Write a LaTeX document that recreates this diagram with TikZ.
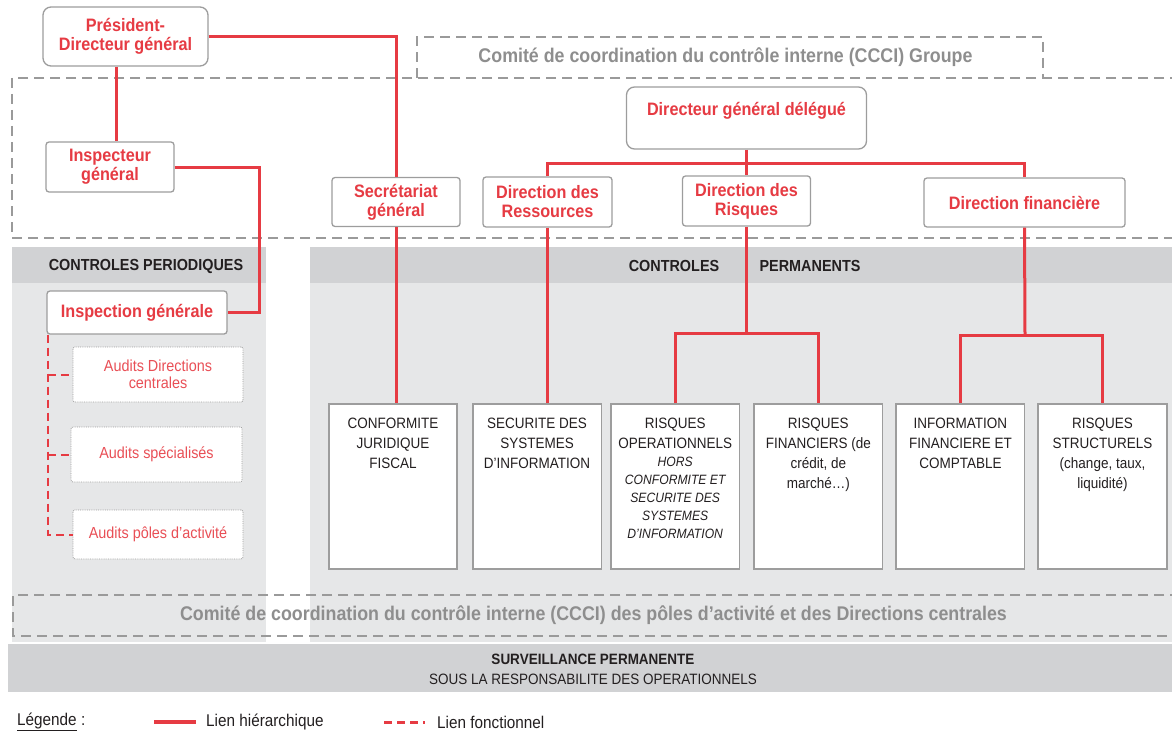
\documentclass[tikz,border=0pt]{standalone}
\usepackage{fontspec}
\setmainfont{Liberation Sans}[FakeStretch=0.9]
\usetikzlibrary{positioning}
\definecolor{ccired}{HTML}{E63B43}
\definecolor{boxgray}{HTML}{9D9D9D}
\definecolor{dashgray}{HTML}{9A9A9A}
\definecolor{headgray}{HTML}{D1D2D4}
\definecolor{panelgray}{HTML}{E6E7E8}
\definecolor{textgray}{HTML}{8E8E8E}
\definecolor{textdark}{HTML}{231F20}
\newcommand{\ctrltext}[1]{\parbox[c][165pt][t]{128.5pt}{\centering\vspace*{14pt}#1}}

\begin{document}
\begin{tikzpicture}[x=1pt, y=-1pt, auto, node distance=12pt]
      \tikzstyle{hier} = [draw=ccired, line width=3pt]
      \tikzstyle{fonct} = [draw=ccired, line width=2pt, dash pattern=on 8pt off 5pt]
      \tikzstyle{comite} = [draw=dashgray, line width=2.8pt, dash pattern=on 10pt off 6pt]
      \tikzstyle{chef node} = [rectangle, rounded corners=8pt, draw=boxgray, line width=1.3pt, fill=white,
         align=center, text=ccired, font=\fontsize{18}{19}\selectfont\bfseries]
      \tikzstyle{dir node} = [chef node, rounded corners=3pt]
      \tikzstyle{audit node} = [rectangle, rounded corners=2pt, draw=boxgray, densely dotted, line width=0.8pt,
         fill=white, align=center, text=ccired!90!white, font=\fontsize{16}{17}\selectfont]
      \tikzstyle{ctrl node} = [rectangle, draw=boxgray, line width=1.6pt, fill=white, inner sep=0pt,
         text=textdark, font=\fontsize{15}{20}\selectfont]
      \tikzstyle{head} = [text=textdark, font=\fontsize{16}{16}\selectfont\bfseries]
      \tikzstyle{comite text} = [text=textgray, font=\fontsize{19.8}{20}\selectfont\bfseries]
      \tikzstyle{legend} = [anchor=west, inner sep=0pt, text=textdark, font=\fontsize{17}{17}\selectfont]

      \useasboundingbox (0,0) rectangle (1172,733);

      %panels
      \fill[headgray] (12,247) rectangle (266,283);
      \fill[panelgray] (12,283) rectangle (266,642);
      \fill[headgray] (310,247) rectangle (1172,283);
      \fill[panelgray] (310,283) rectangle (1172,642);
      \fill[headgray] (8,644) rectangle (1172,692);

      %comites
      \draw[comite] (1180,78) -- (12,78) -- (12,238) -- (1180,238);
      \draw[comite] (417,78) -- (417,37) -- (1043,37) -- (1043,78);
      \draw[comite] (1180,595) -- (13,595) -- (13,636) -- (1180,636);

      %nodes
      \node[chef node, minimum width=165pt, minimum height=59pt] (pdg) at (125.5,36.5) {Président-\\Directeur général};
      \node[dir node, minimum width=128pt, minimum height=50pt] (insp) at (110,167) {Inspecteur\\général};
      \node[dir node, minimum width=128pt, minimum height=49pt] (secr) at (396,202) {Secrétariat\\général};
      \node[chef node, minimum width=240pt, minimum height=62pt] (dgd) at (746.5,118) {Directeur général délégué\\\mbox{}};
      \node[dir node, minimum width=129pt, minimum height=50pt] (dres) at (547.5,202) {Direction des\\Ressources};
      \node[dir node, minimum width=128pt, minimum height=50pt] (drisq) at (746.5,201) {Direction des\\Risques};
      \node[dir node, minimum width=201pt, minimum height=49pt] (dfin) at (1024.5,202.5) {Direction financière};
      \node[dir node, minimum width=180pt, minimum height=43pt] (ig) at (137,312.5) {Inspection générale};

      \node[audit node, minimum width=170pt, minimum height=55pt] (adc) at (158,374.5) {Audits Directions\\centrales};
      \node[audit node, minimum width=171pt, minimum height=55pt] (asp) at (156.5,454.5) {Audits spécialisés};
      \node[audit node, minimum width=170pt, minimum height=49pt] (apa) at (158,534.5) {Audits pôles d’activité};

      \node[ctrl node] (conf) at (393,486.5) {\ctrltext{CONFORMITE\\JURIDIQUE\\FISCAL}};
      \node[ctrl node, right=14pt of conf] (secu) {\ctrltext{SECURITE DES\\SYSTEMES\\D’INFORMATION}};
      \node[ctrl node, right=8pt of secu] (rop) {\ctrltext{RISQUES\\OPERATIONNELS\par
         \itshape\fontsize{13.5}{18}\selectfont HORS\\CONFORMITE ET\\SECURITE DES\\SYSTEMES\\D’INFORMATION}};
      \node[ctrl node, right=13pt of rop] (rfin) {\ctrltext{RISQUES\\FINANCIERS (de\\crédit, de\\marché…)}};
      \node[ctrl node, right=12pt of rfin] (info) {\ctrltext{INFORMATION\\FINANCIERE ET\\COMPTABLE}};
      \node[ctrl node, right=12pt of info] (struc) {\ctrltext{RISQUES\\STRUCTURELS\\(change, taux,\\liquidité)}};

      %texts
      \node[head] (cper) at (146,266) {CONTROLES PERIODIQUES};
      \node[head] (cperm) at (674,266) {CONTROLES};
      \node[head] (cpermb) at (810,266) {PERMANENTS};
      \node[comite text] (ccg) at (725.5,57) {Comité de coordination du contrôle interne (CCCI) Groupe};
      \node[comite text] (ccp) at (593.5,615) {Comité de coordination du contrôle interne (CCCI) des pôles d’activité et des Directions centrales};
      \node[head, font=\fontsize{15}{15}\selectfont\bfseries] (surv) at (593,659) {SURVEILLANCE PERMANENTE};
      \node[text=textdark, font=\fontsize{15}{15}\selectfont] (resp) at (593,679) {SOUS LA RESPONSABILITE DES OPERATIONNELS};

      %lines
      \coordinate (pdgfoot) at ([xshift=-9.5pt]pdg.south);
      \coordinate (igturn) at ([xshift=32pt]ig.east);
      \coordinate (igfoot) at ([xshift=1.5pt]ig.south west);
      \coordinate (dgdbar) at (746.5,163);
      \coordinate (risqbar) at (746.5,333);
      \coordinate (finbar) at (1025,335);
      \path [hier] (pdgfoot) -- (pdgfoot |- insp.north);
      \path [hier] (pdg.east) -| (secr.north);
      \path [hier] (secr.south) -- (secr.south |- conf.north);
      \path [hier] (insp.east) -| (igturn) -- (ig.east);
      \path [hier] (dgd.south) -- (drisq.north);
      \path [hier] (dres.north) |- (dgdbar) -| (dfin.north);
      \path [hier] (dres.south) -- (dres.south |- secu.north);
      \path [hier] (drisq.south) -- (risqbar);
      \path [hier] (rop.north) |- (risqbar) -| (rfin.north);
      \path [hier] (dfin.south) -- (finbar);
      \path [hier] (info.north) |- (finbar) -| (struc.north);
      \path [fonct] (igfoot) |- (apa.west);
      \path [fonct] (igfoot |- adc.west) -- (adc.west);
      \path [fonct] (igfoot |- asp.west) -- (asp.west);

      %legend
      \node[legend] (leg) at (17,722) {\underline{Légende} :};
      \node[legend] (lh) at (206,722) {Lien hiérarchique};
      \node[legend] (lf) at (437,722) {Lien fonctionnel};
      \coordinate (lhstart) at (154,722);
      \coordinate (lfstart) at (384,722);
      \path [hier, line width=3.5pt] (lhstart) -- ([xshift=-10pt]lh.west);
      \path [fonct, line width=3pt] (lfstart) -- ([xshift=-12pt]lf.west);
\end{tikzpicture}
\end{document}
